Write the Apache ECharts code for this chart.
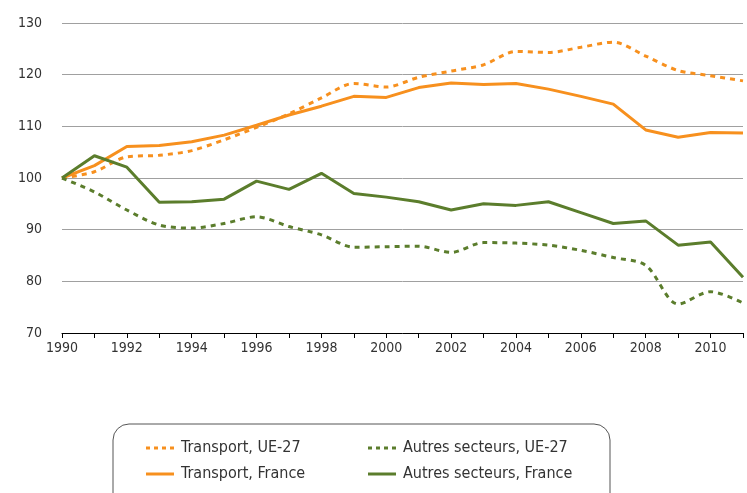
<!DOCTYPE html>
<html>
<head>
<meta charset="utf-8">
<script src="https://cdn.jsdelivr.net/npm/echarts@6/dist/echarts.min.js"></script>
<style>
  html, body { margin: 0; padding: 0; background: #fff; }
  #chart { width: 747px; height: 493px; }
</style>
</head>
<body>
<div id="chart"></div>
<script>
// années
const years = ["1990","1991","1992","1993","1994","1995","1996","1997","1998","1999","2000",
  "2001","2002","2003","2004","2005","2006","2007","2008","2009","2010","2011"];

// indices base 100 en 1990
const transportUE = [100, 101.2, 104.1, 104.4, 105.3, 107.4, 109.8, 112.4, 115.5, 118.3, 117.6,
  119.5, 120.7, 121.9, 124.5, 124.3, 125.3, 126.3, 123.6, 120.8, 119.8, 118.8];
const transportFR = [100, 102.4, 106.1, 106.3, 107.0, 108.3, 110.2, 112.2, 113.9, 115.8, 115.6,
  117.5, 118.4, 118.1, 118.3, 117.2, 115.8, 114.3, 109.3, 107.9, 108.8, 108.7];
const autresUE = [100, 97.3, 93.8, 90.9, 90.3, 91.2, 92.5, 90.6, 89.0, 86.6, 86.7,
  86.8, 85.6, 87.5, 87.4, 87.0, 86.0, 84.6, 83.1, 75.6, 78.0, 75.8];
const autresFR = [100, 104.3, 102.1, 95.3, 95.4, 95.9, 99.4, 97.8, 100.9, 97.0, 96.3,
  95.4, 93.8, 95.0, 94.7, 95.4, 93.3, 91.2, 91.7, 87.0, 87.6, 80.8];

const orange = "#F7901E";
const green = "#5B7D2C";
const font = "DejaVu Sans Condensed";

// icônes de légende : trait plein ou pointillé
const iconSolid = "path://M0,0h28v3h-28z";
const iconDotted = "path://M0,0h4v3h-4z M8,0h4v3h-4z M16,0h4v3h-4z M24,0h4v3h-4z";

const chart = echarts.init(document.getElementById("chart"));

function serie(name, data, color, dotted) {
  return {
    name: name,
    type: "line",
    data: data,
    symbol: "none",
    smooth: dotted ? 0.3 : false,
    lineStyle: { color: color, width: 3, type: dotted ? [5, 5] : "solid" },
    itemStyle: { color: color }
  };
}

function legende(name, left, top, dotted) {
  return {
    left: left,
    top: top,
    data: [name],
    icon: dotted ? iconDotted : iconSolid,
    itemWidth: 28,
    itemHeight: 3,
    textStyle: { fontFamily: font, fontSize: 16, color: "#333", padding: [0, 0, 0, 2] }
  };
}

chart.setOption({
  animation: false,
  grid: { left: 62, right: 4, top: 23, height: 310 },
  xAxis: {
    type: "category",
    data: years,
    boundaryGap: false,
    axisLine: { lineStyle: { color: "#000", width: 1 } },
    axisTick: { interval: 0, length: 5, lineStyle: { color: "#000" } },
    axisLabel: {
      interval: 0,
      margin: 8,
      fontFamily: font,
      fontSize: 14,
      color: "#333",
      formatter: function (v) { return Number(v) % 2 === 0 ? v : ""; }
    }
  },
  yAxis: {
    type: "value",
    min: 70,
    max: 130,
    interval: 10,
    axisLine: { show: false },
    axisTick: { show: false },
    axisLabel: { margin: 20, fontFamily: font, fontSize: 14, color: "#333" },
    splitLine: { lineStyle: { color: "#a0a0a0", width: 1 } }
  },
  legend: [
    legende("Transport, UE-27", 141, 435, true),
    legende("Transport, France", 141, 461, false),
    legende("Autres secteurs, UE-27", 363, 435, true),
    legende("Autres secteurs, France", 363, 461, false)
  ],
  graphic: [{
    type: "rect",
    shape: { x: 113, y: 424, width: 497, height: 90, r: 16 },
    style: { fill: "none", stroke: "#555", lineWidth: 1 },
    z: -1
  }],
  series: [
    serie("Transport, UE-27", transportUE, orange, true),
    serie("Transport, France", transportFR, orange, false),
    serie("Autres secteurs, UE-27", autresUE, green, true),
    serie("Autres secteurs, France", autresFR, green, false)
  ]
});
</script>
</body>
</html>
